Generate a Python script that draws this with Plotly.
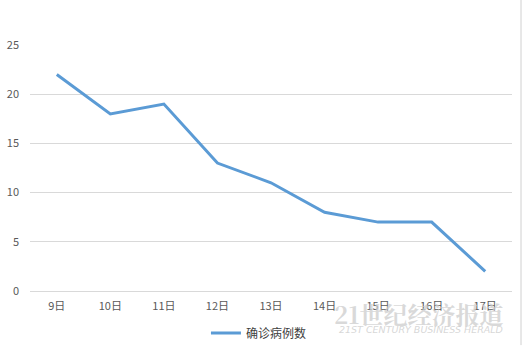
import plotly.graph_objects as go

categories = ["9日", "10日", "11日", "12日", "13日", "14日", "15日", "16日", "17日"]
values = [22, 18, 19, 13, 11, 8, 7, 7, 2]
series_name = "确诊病例数"
y_ticks = [0, 5, 10, 15, 20, 25]

fig = go.Figure()
fig.add_trace(go.Scatter(
    x=categories, y=values, mode="lines", name=series_name,
    line=dict(color="#5B9BD5", width=3),
))

font_family = "Noto Sans CJK SC, Microsoft YaHei, sans-serif"
fig.update_layout(
    width=528, height=353,
    margin=dict(l=30, r=16, t=45, b=62, autoexpand=False),
    paper_bgcolor="white", plot_bgcolor="white",
    font=dict(family=font_family, size=11, color="#595959"),
    showlegend=True,
    legend=dict(orientation="h", x=0.475, xanchor="center", xref="paper",
                y=0.057, yanchor="middle", yref="container",
                font=dict(size=12, color="#404040")),
    xaxis=dict(type="category", range=[-0.5, 8.5], showgrid=False,
               showline=True, linecolor="#D9D9D9", linewidth=1,
               ticks="", ticklabelstandoff=5, tickfont=dict(size=11, color="#595959")),
    yaxis=dict(range=[0, 25], tickvals=y_ticks, showgrid=True, gridcolor="#D9D9D9",
               gridwidth=1, zeroline=False, showline=False, ticks="",
               ticklabelstandoff=10, tickfont=dict(size=11, color="#595959")),
    shapes=[dict(type="line", xref="paper", yref="paper", x0=1.0187, x1=1.0187,
                 y0=1.2, y1=-0.22, line=dict(color="#D0D0D0", width=1))],
    annotations=[
        dict(text="<b>21世纪经济报道</b>", xref="paper", yref="paper", x=0.985, xanchor="right",
             y=-0.09, yanchor="middle", showarrow=False,
             font=dict(family="Noto Serif CJK SC, Noto Sans CJK SC, serif",
                       size=24, color="rgba(205,205,205,0.75)")),
        dict(text="<i>21ST CENTURY BUSINESS HERALD</i>", xref="paper", yref="paper", x=0.985,
             xanchor="right", y=-0.155, yanchor="middle", showarrow=False,
             font=dict(family="DejaVu Sans", size=9.5, color="rgba(205,205,205,0.8)")),
    ],
)

fig.write_html("out.html")
